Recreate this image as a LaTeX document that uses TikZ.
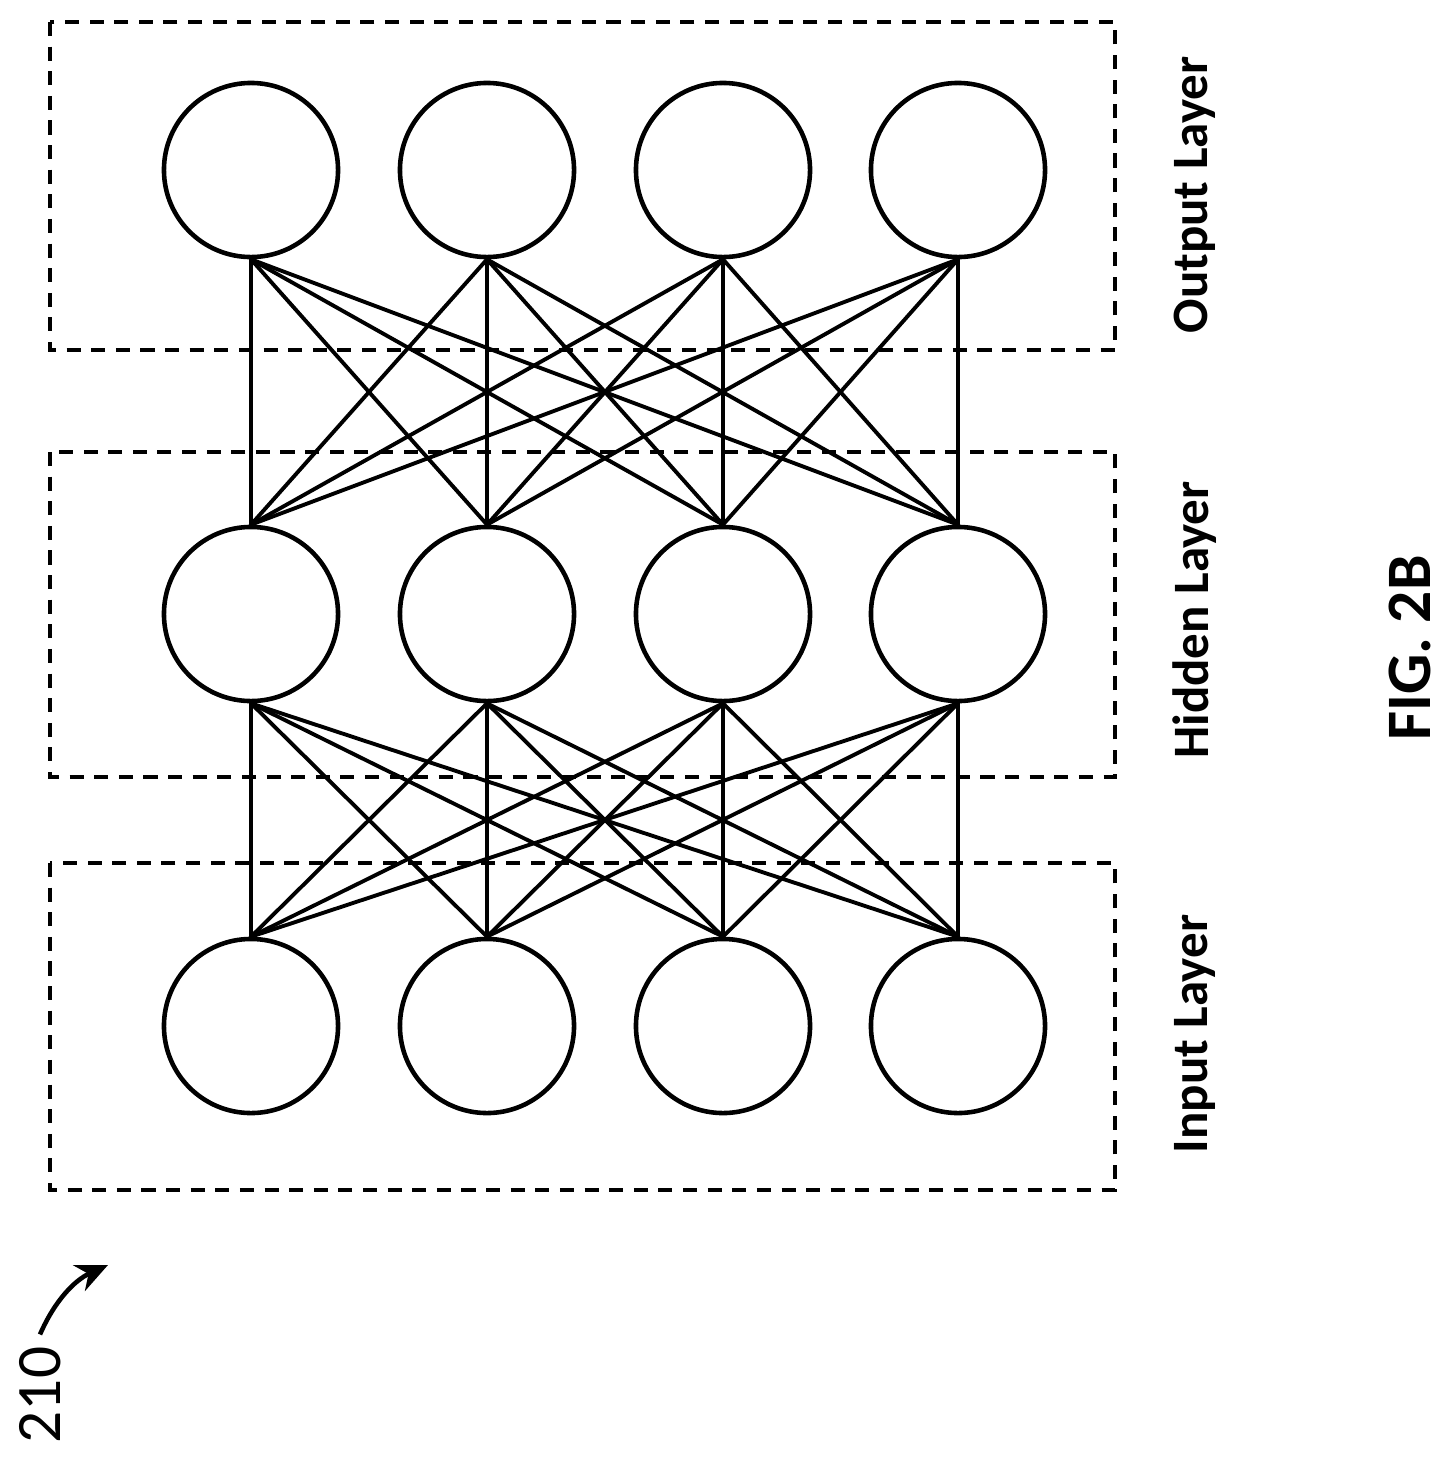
\documentclass[tikz,border=0pt]{standalone}
\usepackage{fontspec}
\setmainfont{Carlito}
\usetikzlibrary{arrows.meta}

\tikzset{
  neuron/.style={circle, draw, line width=1.3pt, minimum size=1.74cm, inner sep=0pt},
  layerbox/.style={draw, dashed, line width=1.3pt, dash pattern=on 4pt off 3pt},
  edge/.style={line width=1.1pt},
  layerlabel/.style={rotate=90, font=\bfseries\fontsize{14.5}{16}\selectfont}
}

\begin{document}
\begin{tikzpicture}[x=0.01cm, y=-0.01cm]
\useasboundingbox (0,0) rectangle (1450,1463);
% layer boxes
\draw[layerbox] (50,22) rectangle (1115,350);
\draw[layerbox] (50,452) rectangle (1115,777);
\draw[layerbox] (50,863) rectangle (1115,1190);
% neurons
\foreach \i/\x in {1/251,2/487,3/723,4/958} {
  \node[neuron] (o\i) at (\x,170) {};
  \node[neuron] (h\i) at (\x,614) {};
  \node[neuron] (n\i) at (\x,1026) {};
}
% connections
\foreach \i in {1,...,4}
  \foreach \j in {1,...,4} {
    \draw[edge] (o\i.south) -- (h\j.north);
    \draw[edge] (h\i.south) -- (n\j.north);
  }
% labels
\node[layerlabel] (lo) at (1195,195) {Output Layer};
\node[layerlabel] (lh) at (1195,620) {Hidden Layer};
\node[layerlabel] (li) at (1195,1034) {Input Layer};
\node[rotate=90, font=\bfseries\fontsize{18}{20}\selectfont] (fig) at (1410,648) {FIG. 2B};
\node[rotate=90, font=\fontsize{18}{20}\selectfont] (ref) at (40,1395) {210};
\coordinate (tip) at (108,1265);
\draw[line width=1.3pt, -{Stealth[length=9pt,width=8pt]}] (ref.east) .. controls (55,1300) and (75,1280) .. (tip);
\end{tikzpicture}
\end{document}
